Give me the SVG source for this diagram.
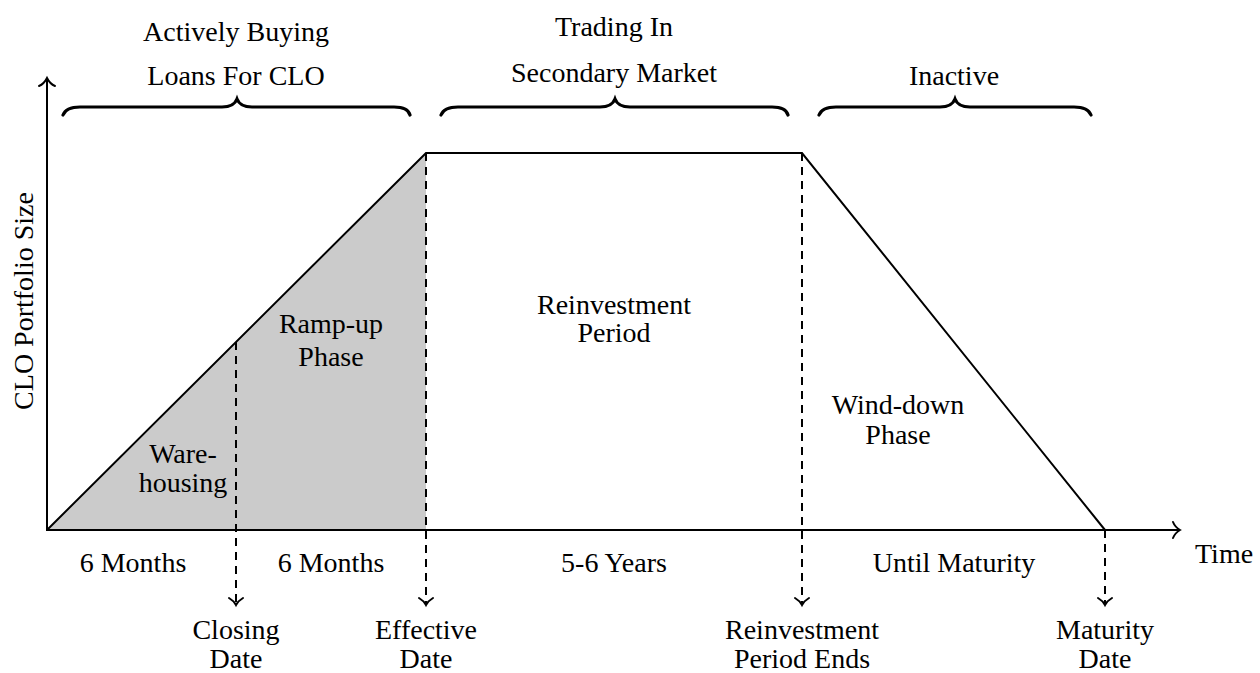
<svg xmlns="http://www.w3.org/2000/svg" width="1260" height="673" viewBox="0 0 1260 673">
<style>
text{font-family:"Liberation Serif","Times New Roman",serif;font-size:28px;fill:#000;text-anchor:middle}
.ln{fill:none;stroke:#000;stroke-width:2}
.ds{fill:none;stroke:#000;stroke-width:2;stroke-dasharray:8,6}
.br{fill:none;stroke:#000;stroke-width:3.2;stroke-linecap:round}
.ah{fill:none;stroke:#000;stroke-width:2;stroke-linecap:round}
</style>
<defs>
<path id="dn" class="ah" d="M-7,-7 Q-2,-4 0,0 Q2,-4 7,-7"/>
</defs>
<g id="area">
<polygon points="47,530 426,153 426,530" fill="#cbcbcb"/>
</g>
<g id="connectors">
<path class="ds" d="M236,342 V603"/>
<path class="ds" d="M426,153 V603"/>
<path class="ds" d="M802,153 V603"/>
<path class="ds" d="M1105,530 V603"/>
<use href="#dn" x="236" y="605"/>
<use href="#dn" x="426" y="605"/>
<use href="#dn" x="802" y="605"/>
<use href="#dn" x="1105" y="605"/>
<path class="ln" d="M47,530 L426,153 H802 L1105,530"/>
<path class="ln" d="M47,531 V79"/>
<path class="ah" d="M39,86 Q44,84 47,78 Q50,84 55,86"/>
<path class="ln" d="M46,530 H1179"/>
<path class="ah" d="M1173,522 Q1175,527 1180,530 Q1175,533 1173,538"/>
</g>
<g id="braces">
<path class="br" d="M63,115 Q66,107 80,107 H222 Q234,107 237,99 Q240,107 252,107 H394 Q408,107 410,115"/>
<path class="br" d="M441,115 Q444,107 458,107 H600 Q612,107 615,99 Q618,107 630,107 H772 Q786,107 788,115"/>
<path class="br" d="M819,115 Q822,107 836,107 H940 Q952,107 955,99 Q958,107 970,107 H1074 Q1088,107 1091,115"/>
</g>
<g id="top-labels">
<text x="236" y="41">Actively Buying</text>
<text x="236" y="85">Loans For CLO</text>
<text x="614" y="36">Trading In</text>
<text x="614" y="82">Secondary Market</text>
<text x="954" y="85">Inactive</text>
</g>
<g id="y-label">
<text transform="translate(33,301) rotate(-90)">CLO Portfolio Size</text>
</g>
<g id="phases">
<text x="614" y="314">Reinvestment</text>
<text x="614" y="342">Period</text>
<text x="331" y="333">Ramp-up</text>
<text x="331" y="366">Phase</text>
<text x="183" y="463">Ware-</text>
<text x="183" y="492">housing</text>
<text x="898" y="414">Wind-down</text>
<text x="898" y="444">Phase</text>
</g>
<g id="durations">
<text x="133" y="572">6 Months</text>
<text x="331" y="572">6 Months</text>
<text x="614" y="572">5-6 Years</text>
<text x="954" y="572">Until Maturity</text>
<text x="1195" y="563" style="text-anchor:start">Time</text>
</g>
<g id="dates">
<text x="236" y="639">Closing</text>
<text x="236" y="668">Date</text>
<text x="426" y="639">Effective</text>
<text x="426" y="668">Date</text>
<text x="802" y="639">Reinvestment</text>
<text x="802" y="668">Period Ends</text>
<text x="1105" y="639">Maturity</text>
<text x="1105" y="668">Date</text>
</g>
</svg>
